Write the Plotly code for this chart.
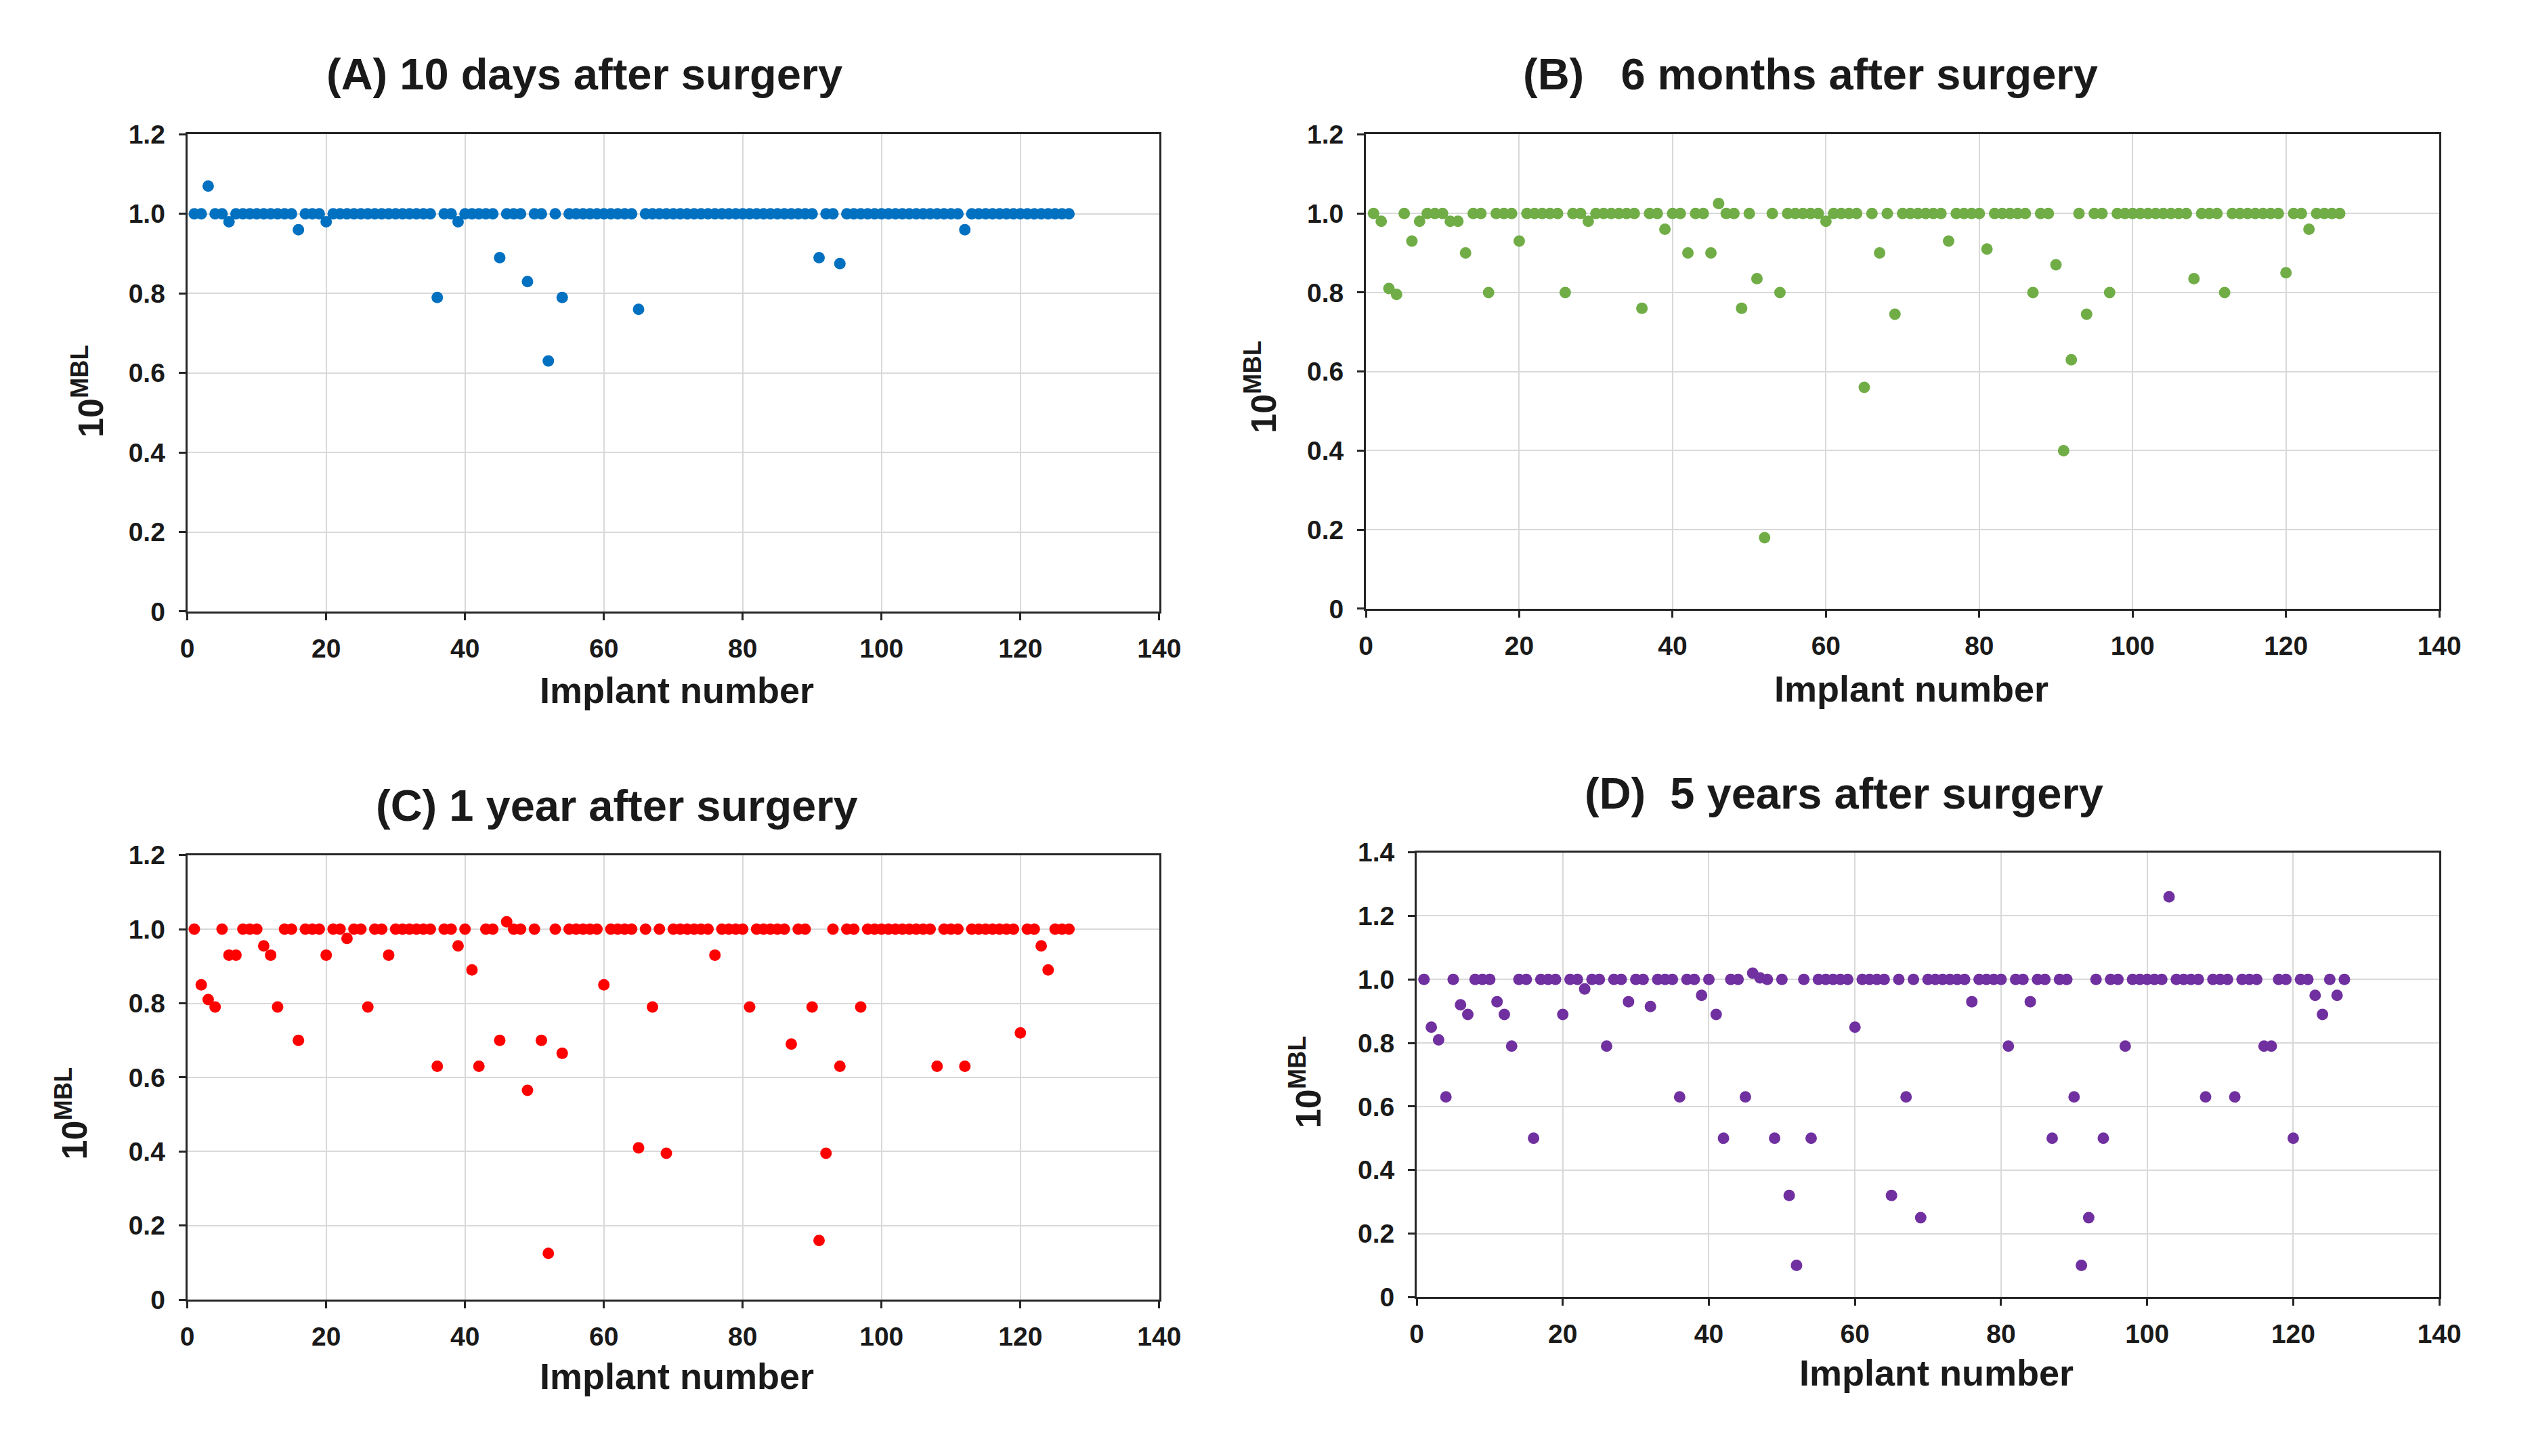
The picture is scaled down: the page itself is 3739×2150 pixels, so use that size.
import plotly.graph_objects as go

# ---------------- data ----------------
implant_number = list(range(1, 128))

mbl_10_days = [
    1.0, 1.0, 1.07, 1.0, 1.0, 0.98, 1.0, 1.0, 1.0, 1.0,
    1.0, 1.0, 1.0, 1.0, 1.0, 0.96, 1.0, 1.0, 1.0, 0.98,
    1.0, 1.0, 1.0, 1.0, 1.0, 1.0, 1.0, 1.0, 1.0, 1.0,
    1.0, 1.0, 1.0, 1.0, 1.0, 0.79, 1.0, 1.0, 0.98, 1.0,
    1.0, 1.0, 1.0, 1.0, 0.89, 1.0, 1.0, 1.0, 0.83, 1.0,
    1.0, 0.63, 1.0, 0.79, 1.0, 1.0, 1.0, 1.0, 1.0, 1.0,
    1.0, 1.0, 1.0, 1.0, 0.76, 1.0, 1.0, 1.0, 1.0, 1.0,
    1.0, 1.0, 1.0, 1.0, 1.0, 1.0, 1.0, 1.0, 1.0, 1.0,
    1.0, 1.0, 1.0, 1.0, 1.0, 1.0, 1.0, 1.0, 1.0, 1.0,
    0.89, 1.0, 1.0, 0.875, 1.0, 1.0, 1.0, 1.0, 1.0, 1.0,
    1.0, 1.0, 1.0, 1.0, 1.0, 1.0, 1.0, 1.0, 1.0, 1.0,
    1.0, 0.96, 1.0, 1.0, 1.0, 1.0, 1.0, 1.0, 1.0, 1.0,
    1.0, 1.0, 1.0, 1.0, 1.0, 1.0, 1.0,
]

mbl_6_months = [
    1.0, 0.98, 0.81, 0.795, 1.0, 0.93, 0.98, 1.0, 1.0, 1.0,
    0.98, 0.98, 0.90, 1.0, 1.0, 0.80, 1.0, 1.0, 1.0, 0.93,
    1.0, 1.0, 1.0, 1.0, 1.0, 0.80, 1.0, 1.0, 0.98, 1.0,
    1.0, 1.0, 1.0, 1.0, 1.0, 0.76, 1.0, 1.0, 0.96, 1.0,
    1.0, 0.90, 1.0, 1.0, 0.90, 1.025, 1.0, 1.0, 0.76, 1.0,
    0.835, 0.18, 1.0, 0.80, 1.0, 1.0, 1.0, 1.0, 1.0, 0.98,
    1.0, 1.0, 1.0, 1.0, 0.56, 1.0, 0.90, 1.0, 0.745, 1.0,
    1.0, 1.0, 1.0, 1.0, 1.0, 0.93, 1.0, 1.0, 1.0, 1.0,
    0.91, 1.0, 1.0, 1.0, 1.0, 1.0, 0.80, 1.0, 1.0, 0.87,
    0.40, 0.63, 1.0, 0.745, 1.0, 1.0, 0.80, 1.0, 1.0, 1.0,
    1.0, 1.0, 1.0, 1.0, 1.0, 1.0, 1.0, 0.835, 1.0, 1.0,
    1.0, 0.80, 1.0, 1.0, 1.0, 1.0, 1.0, 1.0, 1.0, 0.85,
    1.0, 1.0, 0.96, 1.0, 1.0, 1.0, 1.0,
]

mbl_1_year = [
    1.0, 0.85, 0.81, 0.79, 1.0, 0.93, 0.93, 1.0, 1.0, 1.0,
    0.955, 0.93, 0.79, 1.0, 1.0, 0.70, 1.0, 1.0, 1.0, 0.93,
    1.0, 1.0, 0.975, 1.0, 1.0, 0.79, 1.0, 1.0, 0.93, 1.0,
    1.0, 1.0, 1.0, 1.0, 1.0, 0.63, 1.0, 1.0, 0.955, 1.0,
    0.89, 0.63, 1.0, 1.0, 0.70, 1.02, 1.0, 1.0, 0.565, 1.0,
    0.70, 0.125, 1.0, 0.665, 1.0, 1.0, 1.0, 1.0, 1.0, 0.85,
    1.0, 1.0, 1.0, 1.0, 0.41, 1.0, 0.79, 1.0, 0.395, 1.0,
    1.0, 1.0, 1.0, 1.0, 1.0, 0.93, 1.0, 1.0, 1.0, 1.0,
    0.79, 1.0, 1.0, 1.0, 1.0, 1.0, 0.69, 1.0, 1.0, 0.79,
    0.16, 0.395, 1.0, 0.63, 1.0, 1.0, 0.79, 1.0, 1.0, 1.0,
    1.0, 1.0, 1.0, 1.0, 1.0, 1.0, 1.0, 0.63, 1.0, 1.0,
    1.0, 0.63, 1.0, 1.0, 1.0, 1.0, 1.0, 1.0, 1.0, 0.72,
    1.0, 1.0, 0.955, 0.89, 1.0, 1.0, 1.0,
]

mbl_5_years = [
    1.0, 0.85, 0.81, 0.63, 1.0, 0.92, 0.89, 1.0, 1.0, 1.0,
    0.93, 0.89, 0.79, 1.0, 1.0, 0.50, 1.0, 1.0, 1.0, 0.89,
    1.0, 1.0, 0.97, 1.0, 1.0, 0.79, 1.0, 1.0, 0.93, 1.0,
    1.0, 0.915, 1.0, 1.0, 1.0, 0.63, 1.0, 1.0, 0.95, 1.0,
    0.89, 0.50, 1.0, 1.0, 0.63, 1.02, 1.005, 1.0, 0.50, 1.0,
    0.32, 0.10, 1.0, 0.50, 1.0, 1.0, 1.0, 1.0, 1.0, 0.85,
    1.0, 1.0, 1.0, 1.0, 0.32, 1.0, 0.63, 1.0, 0.25, 1.0,
    1.0, 1.0, 1.0, 1.0, 1.0, 0.93, 1.0, 1.0, 1.0, 1.0,
    0.79, 1.0, 1.0, 0.93, 1.0, 1.0, 0.50, 1.0, 1.0, 0.63,
    0.10, 0.25, 1.0, 0.50, 1.0, 1.0, 0.79, 1.0, 1.0, 1.0,
    1.0, 1.0, 1.26, 1.0, 1.0, 1.0, 1.0, 0.63, 1.0, 1.0,
    1.0, 0.63, 1.0, 1.0, 1.0, 0.79, 0.79, 1.0, 1.0, 0.50,
    1.0, 1.0, 0.95, 0.89, 1.0, 0.95, 1.0,
]

panel_titles = [
    "(A) 10 days after surgery",
    "(B)   6 months after surgery",
    "(C) 1 year after surgery",
    "(D)  5 years after surgery",
]
x_tick_values = [0, 20, 40, 60, 80, 100, 120, 140]
y_tick_values_12 = [0, 0.2, 0.4, 0.6, 0.8, 1.0, 1.2]
y_tick_text_12 = ["0", "0.2", "0.4", "0.6", "0.8", "1.0", "1.2"]
y_tick_values_14 = [0, 0.2, 0.4, 0.6, 0.8, 1.0, 1.2, 1.4]
y_tick_text_14 = ["0", "0.2", "0.4", "0.6", "0.8", "1.0", "1.2", "1.4"]
x_title = "Implant number"
y_title = "10<sup>MBL</sup>"

# ---------------- styling / layout ----------------
W, H = 3739, 2150
FONT = "Arial, Liberation Sans, sans-serif"
TXT = "#1a1a1a"

panels = [
    dict(y=mbl_10_days, color="#0070C0", title=panel_titles[0],
         xd=[0.0719, 0.4603], yd=[0.5814, 0.9158], yr=1.2,
         tv=y_tick_values_12, tt=y_tick_text_12,
         tpos=(0.2305, 0.958), ytpos=(0.0324, 0.736), xtpos=(0.2675, 0.5265)),
    dict(y=mbl_6_months, color="#70AD47", title=panel_titles[1],
         xd=[0.5429, 0.9719], yd=[0.5833, 0.9158], yr=1.2,
         tv=y_tick_values_12, tt=y_tick_text_12,
         tpos=(0.7207, 0.958), ytpos=(0.5009, 0.739), xtpos=(0.761, 0.5274)),
    dict(y=mbl_1_year, color="#FF0000", title=panel_titles[2],
         xd=[0.0719, 0.4603], yd=[0.0991, 0.4107], yr=1.2,
         tv=y_tick_values_12, tt=y_tick_text_12,
         tpos=(0.2436, 0.4455), ytpos=(0.0256, 0.2298), xtpos=(0.2675, 0.0455)),
    dict(y=mbl_5_years, color="#7030A0", title=panel_titles[3],
         xd=[0.5632, 0.9719], yd=[0.1009, 0.4126], yr=1.4,
         tv=y_tick_values_14, tt=y_tick_text_14,
         tpos=(0.734, 0.4540), ytpos=(0.5189, 0.2516), xtpos=(0.771, 0.048)),
]

fig = go.Figure()
annotations = []
layout_axes = {}

for i, p in enumerate(panels, start=1):
    xa = "x" if i == 1 else f"x{i}"
    ya = "y" if i == 1 else f"y{i}"
    fig.add_trace(go.Scatter(
        x=implant_number, y=p["y"], xaxis=xa, yaxis=ya, mode="markers",
        marker=dict(color=p["color"], size=17, line=dict(width=0)),
        showlegend=False, hoverinfo="x+y"))

    axis_common = dict(
        showgrid=True, gridcolor="#d9d9d9", gridwidth=2,
        showline=True, linecolor="#262626", linewidth=3, mirror=True,
        ticks="outside", ticklen=10, tickwidth=3, tickcolor="#262626",
        tickfont=dict(family=FONT, size=39, color=TXT, weight="bold"),
        zeroline=False, fixedrange=True,
    )
    layout_axes["xaxis" if i == 1 else f"xaxis{i}"] = dict(
        axis_common, domain=p["xd"], range=[0, 140],
        tickmode="array", tickvals=x_tick_values,
        anchor=ya, ticklabelstandoff=8)
    layout_axes["yaxis" if i == 1 else f"yaxis{i}"] = dict(
        axis_common, domain=p["yd"], range=[0, p["yr"]],
        tickmode="array", tickvals=p["tv"], ticktext=p["tt"],
        anchor=xa, ticklabelstandoff=12)

    annotations.append(dict(
        text=p["title"],
        x=p["tpos"][0], y=p["tpos"][1], xref="paper", yref="paper",
        xanchor="center", yanchor="middle", showarrow=False,
        font=dict(family=FONT, size=65, color=TXT, weight="bold")))
    annotations.append(dict(
        text=x_title, x=p["xtpos"][0], y=p["xtpos"][1],
        xref="paper", yref="paper", xanchor="center", yanchor="middle",
        showarrow=False,
        font=dict(family=FONT, size=54, color=TXT, weight="bold")))
    annotations.append(dict(
        text=y_title, x=p["ytpos"][0], y=p["ytpos"][1], textangle=-90,
        xref="paper", yref="paper", xanchor="center", yanchor="middle",
        showarrow=False,
        font=dict(family=FONT, size=52, color=TXT, weight="bold")))

fig.update_layout(
    width=W, height=H, autosize=False,
    margin=dict(l=0, r=0, t=0, b=0, pad=0),
    paper_bgcolor="white", plot_bgcolor="white",
    annotations=annotations, **layout_axes)

fig.write_html("out.html", config={"displayModeBar": False},
               post_script="document.body.style.margin='0';")
